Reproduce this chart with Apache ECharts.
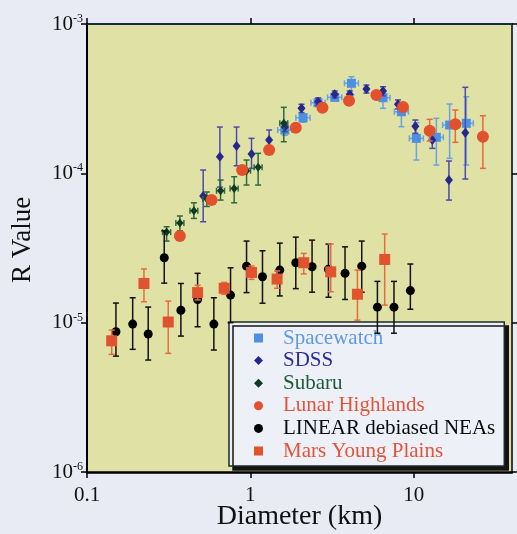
<!DOCTYPE html>
<html>
<head>
<meta charset="utf-8">
<script src="https://cdn.jsdelivr.net/npm/echarts@6/dist/echarts.min.js"></script>
<style>
html,body{margin:0;padding:0;background:#e9ebf4;}
#chart{width:517px;height:534px;}
</style>
</head>
<body>
<div id="chart"></div>
<script>
// ---- Data (diameter km, R value, error lo/hi) ----
const xTicks = [0.1, 1, 10];
const yTicks = [1e-6, 1e-5, 1e-4, 1e-3];

const spacewatchD   = [1.626, 2.103, 2.598, 3.287, 4.159, 6.490, 8.411, 10.39, 13.77, 16.60, 21.01];
const spacewatchR   = [1.95e-4, 2.357e-4, 2.971e-4, 3.228e-4, 4.008e-4, 3.209e-4, 2.585e-4, 1.715e-4, 1.742e-4, 2.107e-4, 2.163e-4];
const spacewatchLo  = [1.80e-4, 2.20e-4, 2.80e-4, 3.05e-4, 3.345e-4, 2.725e-4, 2.052e-4, 1.228e-4, 1.136e-4, 1.260e-4, 1.136e-4];
const spacewatchHi  = [2.10e-4, 2.50e-4, 3.15e-4, 3.40e-4, 4.436e-4, 3.60e-4, 2.90e-4, 2.183e-4, 2.335e-4, 2.911e-4, 3.258e-4];
const spacewatchDLo = [1.47, 1.90, 2.35, 2.97, 3.77, 5.88, 7.62, 9.41, 12.47, 15.04, 19.03];
const spacewatchDHi = [1.80, 2.32, 2.87, 3.63, 4.59, 7.16, 9.29, 11.47, 15.20, 18.33, 23.19];

const sdssD  = [0.5144, 0.6510, 0.8235, 1.017, 1.303, 1.626, 2.057, 2.598, 3.287, 4.061, 5.137, 6.490, 8.017, 10.24, 13.01, 16.44, 20.71];
const sdssR  = [7.05e-5, 1.292e-4, 1.524e-4, 1.347e-4, 1.671e-4, 2.042e-4, 2.725e-4, 3.017e-4, 3.381e-4, 3.381e-4, 3.669e-4, 3.558e-4, 2.898e-4, 2.07e-4, 1.671e-4, 9.02e-5, 1.87e-4];
const sdssLo = [4.74e-5, 8.09e-5, 1.124e-4, 1.08e-4, 1.395e-4, 1.90e-4, 2.55e-4, 2.85e-4, 3.20e-4, 3.20e-4, 3.45e-4, 3.30e-4, 2.70e-4, 1.853e-4, 1.47e-4, 6.62e-5, 9.16e-5];
const sdssHi = [1.052e-4, 2.042e-4, 2.042e-4, 1.715e-4, 1.95e-4, 2.20e-4, 2.90e-4, 3.20e-4, 3.56e-4, 3.56e-4, 3.90e-4, 3.80e-4, 3.10e-4, 2.275e-4, 1.95e-4, 1.209e-4, 3.767e-4];

const subaruD   = [0.3073, 0.3705, 0.4513, 0.5418, 0.6573, 0.7960, 0.9480, 1.116, 1.603];
const subaruR   = [4.04e-5, 4.65e-5, 5.62e-5, 6.73e-5, 7.64e-5, 7.93e-5, 1.041e-4, 1.097e-4, 2.163e-4];
const subaruLo  = [3.52e-5, 4.12e-5, 4.99e-5, 6.0e-5, 6.62e-5, 6.35e-5, 8.35e-5, 8.35e-5, 1.628e-4];
const subaruHi  = [4.39e-5, 5.18e-5, 6.35e-5, 7.5e-5, 9.02e-5, 9.49e-5, 1.228e-4, 1.361e-4, 2.767e-4];
const subaruDLo = [0.290, 0.350, 0.427, 0.512, 0.621, 0.752, 0.896, 1.055, 1.515];
const subaruDHi = [0.325, 0.392, 0.477, 0.573, 0.695, 0.842, 1.003, 1.180, 1.695];

const lunarD  = [0.3705, 0.5789, 0.8909, 1.303, 1.898, 2.764, 4.021, 5.914, 8.603, 12.53, 17.99, 26.54];
const lunarR  = [3.80e-5, 6.62e-5, 1.052e-4, 1.432e-4, 2.02e-4, 2.75e-4, 3.064e-4, 3.345e-4, 2.78e-4, 1.929e-4, 2.129e-4, 1.758e-4];
const lunarLo = [null, null, null, null, null, null, null, null, null, 1.645e-4, 1.613e-4, 1.08e-4];
const lunarHi = [null, null, null, null, null, null, null, null, null, 2.30e-4, 2.654e-4, 2.43e-4];

const linearD  = [0.1504, 0.1904, 0.2370, 0.2971, 0.3757, 0.4754, 0.5980, 0.7565, 0.9480, 1.187, 1.515, 1.898, 2.388, 3.008, 3.800, 4.808, 5.998, 7.577, 9.546];
const linearR  = [8.69e-6, 9.78e-6, 8.39e-6, 2.72e-5, 1.21e-5, 1.43e-5, 9.78e-6, 1.53e-5, 2.39e-5, 2.03e-5, 2.25e-5, 2.52e-5, 2.37e-5, 2.28e-5, 2.14e-5, 2.39e-5, 1.27e-5, 1.27e-5, 1.64e-5];
const linearLo = [5.97e-6, 6.63e-6, 5.62e-6, 1.84e-5, 8.13e-6, 9.39e-6, 6.56e-6, 1.0e-5, 1.59e-5, 1.35e-5, 1.51e-5, 1.69e-5, 1.60e-5, 1.48e-5, 1.43e-5, 1.60e-5, 8.5e-6, 8.5e-6, 1.23e-5];
const linearHi = [1.353e-5, 1.468e-5, 1.272e-5, 4.12e-5, 1.83e-5, 2.14e-5, 1.468e-5, 2.33e-5, 3.52e-5, 3.03e-5, 3.41e-5, 3.74e-5, 3.57e-5, 3.36e-5, 3.22e-5, 3.52e-5, 1.89e-5, 1.89e-5, 2.47e-5];

const marsD  = [0.1416, 0.2232, 0.3143, 0.4754, 0.6915, 1.017, 1.458, 2.124, 3.107, 4.526, 6.648];
const marsR  = [7.56e-6, 1.83e-5, 1.01e-5, 1.59e-5, 1.70e-5, 2.17e-5, 1.96e-5, 2.52e-5, 2.19e-5, 1.55e-5, 2.65e-5];
const marsLo = [6.13e-6, 1.38e-5, 6.23e-6, 1.42e-5, 1.55e-5, 1.95e-5, 1.70e-5, 2.12e-5, 1.61e-5, 1.04e-5, 1.31e-5];
const marsHi = [8.92e-6, 2.29e-5, 1.395e-5, 1.78e-5, 1.86e-5, 2.40e-5, 2.22e-5, 2.91e-5, 3.36e-5, 2.25e-5, 3.92e-5];

const seriesNames = ['Spacewatch', 'SDSS', 'Subaru', 'Lunar Highlands', 'LINEAR debiased NEAs', 'Mars Young Plains'];

// ---- helpers ----
function pts(D, R) { return D.map((d, i) => [d, R[i]]); }
function errs(D, R, lo, hi, dlo, dhi) {
  return D.map((d, i) => [d, R[i],
    lo[i] == null ? NaN : lo[i], hi[i] == null ? NaN : hi[i],
    dlo ? dlo[i] : NaN, dhi ? dhi[i] : NaN]);
}
function errRender(color, cap, lw) {
  return function (params, api) {
    const x = api.value(0), y = api.value(1), lo = api.value(2), hi = api.value(3), xl = api.value(4), xh = api.value(5);
    const p = api.coord([x, y]);
    const ch = [];
    const st = { stroke: color, lineWidth: lw };
    if (!isNaN(lo) && !isNaN(hi)) {
      const a = api.coord([x, lo]), b = api.coord([x, hi]);
      ch.push({ type: 'line', shape: { x1: p[0], y1: a[1], x2: p[0], y2: b[1] }, style: st });
      ch.push({ type: 'line', shape: { x1: p[0] - cap, y1: a[1], x2: p[0] + cap, y2: a[1] }, style: st });
      ch.push({ type: 'line', shape: { x1: p[0] - cap, y1: b[1], x2: p[0] + cap, y2: b[1] }, style: st });
    }
    if (!isNaN(xl) && !isNaN(xh)) {
      const a = api.coord([xl, y]), b = api.coord([xh, y]);
      ch.push({ type: 'line', shape: { x1: a[0], y1: p[1], x2: b[0], y2: p[1] }, style: st });
      ch.push({ type: 'line', shape: { x1: a[0], y1: p[1] - cap, x2: a[0], y2: p[1] + cap }, style: st });
      ch.push({ type: 'line', shape: { x1: b[0], y1: p[1] - cap, x2: b[0], y2: p[1] + cap }, style: st });
    }
    return { type: 'group', children: ch };
  };
}
function errSeries(data, color, cap, lw, z) {
  return { type: 'custom', renderItem: errRender(color, cap, lw), data: data,
    encode: { x: 0, y: 1 }, z: z, silent: true, clip: true };
}

const SERIF = '"Liberation Serif", "Times New Roman", serif';
const C = {
  sw: '#4d8fe0', swErr: '#6aa2e4',
  sdss: '#26268f', sdssErr: '#4a4ab0',
  sub: '#0e3a22', subErr: '#2d6a3c',
  lun: '#e2502c', lunErr: '#e8683e',
  lin: '#000000', linErr: '#111111',
  mars: '#e0532e', marsErr: '#ea6a40'
};

const chart = echarts.init(document.getElementById('chart'), null, { renderer: 'canvas' });

const xAxisBase = {
  type: 'log', logBase: 10, min: 0.1, max: 40,
  splitLine: { show: false }, minorTick: { show: false },
  axisTick: { show: true, inside: false, length: 6, customValues: xTicks, lineStyle: { color: '#000', width: 1.5 } }
};
const yAxisBase = {
  type: 'log', logBase: 10, min: 1e-6, max: 1e-3,
  splitLine: { show: false }, minorTick: { show: false },
  axisTick: { show: true, inside: false, length: 6, customValues: yTicks, lineStyle: { color: '#000', width: 1.5 } }
};

const option = {
  backgroundColor: '#e9ebf4',
  animation: false,
  grid: { left: 87, right: 5, top: 24, bottom: 62, outerBoundsMode: 'none', containLabel: false,
    show: true, backgroundColor: '#dfe2a4', borderWidth: 0 },
  xAxis: [
    Object.assign({}, xAxisBase, {
      position: 'bottom',
      axisLine: { show: true, lineStyle: { color: '#000', width: 2.5 } },
      axisLabel: { show: true, customValues: xTicks, margin: 13, fontFamily: SERIF, fontSize: 21, color: '#111',
        formatter: v => (Math.abs(v - 0.1) < 1e-9 ? '0.1' : String(Math.round(v))) },
      name: 'Diameter (km)', nameLocation: 'middle', nameGap: 31, nameMoveOverlap: false,
      nameTextStyle: { fontFamily: SERIF, fontSize: 28, color: '#111' }
    }),
    Object.assign({}, xAxisBase, {
      position: 'top',
      axisLine: { show: true, lineStyle: { color: '#10303c', width: 2 } },
      axisLabel: { show: false }
    })
  ],
  yAxis: [
    Object.assign({}, yAxisBase, {
      position: 'left',
      axisLine: { show: true, lineStyle: { color: '#000', width: 2 } },
      axisLabel: { show: true, customValues: yTicks, margin: 4, fontFamily: SERIF, color: '#111',
        formatter: v => '{b|10}{s|' + Math.round(Math.log10(v)) + '}',
        rich: {
          b: { fontFamily: SERIF, fontSize: 21, lineHeight: 22, color: '#111' },
          s: { fontFamily: SERIF, fontSize: 12, lineHeight: 12, verticalAlign: 'top', color: '#111' }
        } },
      name: 'R Value', nameLocation: 'middle', nameRotate: 90, nameGap: 51, nameMoveOverlap: false,
      nameTextStyle: { fontFamily: SERIF, fontSize: 27, color: '#111', padding: [0, 0, 0, 16] }
    }),
    Object.assign({}, yAxisBase, {
      position: 'right',
      axisLine: { show: true, lineStyle: { color: '#000', width: 1.5 } },
      axisLabel: { show: false }
    })
  ],
  legend: {
    left: 229, top: 322, orient: 'vertical',
    padding: [5, 9, 4, 25], itemGap: 0.6, itemWidth: 9, itemHeight: 9,
    backgroundColor: '#eef0f8', borderColor: '#1c2a2a', borderWidth: 1.5,
    shadowColor: '#141414', shadowBlur: 0, shadowOffsetX: 4, shadowOffsetY: 4,
    selectedMode: false,
    textStyle: { fontFamily: SERIF, fontSize: 21, lineHeight: 22, padding: [0, 0, 0, 15] },
    data: [
      { name: seriesNames[0], textStyle: { color: '#5f98e2' } },
      { name: seriesNames[1], textStyle: { color: '#2c2c96' } },
      { name: seriesNames[2], textStyle: { color: '#1e5a38' } },
      { name: seriesNames[3], textStyle: { color: '#e0553a' } },
      { name: seriesNames[4], textStyle: { color: '#0a0a0a' } },
      { name: seriesNames[5], textStyle: { color: '#e0553a' } }
    ]
  },
  series: [
    errSeries(errs(spacewatchD, spacewatchR, spacewatchLo, spacewatchHi, spacewatchDLo, spacewatchDHi), C.swErr, 3, 1.5, 2),
    { type: 'scatter', name: seriesNames[0], data: pts(spacewatchD, spacewatchR), symbol: 'rect', symbolSize: 9,
      itemStyle: { color: C.sw, opacity: 1 }, z: 3 },
    errSeries(errs(sdssD, sdssR, sdssLo, sdssHi), C.sdssErr, 3, 1.5, 4),
    { type: 'scatter', name: seriesNames[1], data: pts(sdssD, sdssR), symbol: 'diamond', symbolSize: [8, 10],
      itemStyle: { color: C.sdss, opacity: 1 }, z: 5 },
    errSeries(errs(subaruD, subaruR, subaruLo, subaruHi, subaruDLo, subaruDHi), C.subErr, 3, 1.5, 6),
    { type: 'scatter', name: seriesNames[2], data: pts(subaruD, subaruR), symbol: 'diamond', symbolSize: [7, 9],
      itemStyle: { color: C.sub, opacity: 1 }, z: 7 },
    errSeries(errs(lunarD, lunarR, lunarLo, lunarHi), C.lunErr, 3, 1.5, 8),
    { type: 'scatter', name: seriesNames[3], data: pts(lunarD, lunarR), symbol: 'circle', symbolSize: 12,
      itemStyle: { color: C.lun, opacity: 1 }, z: 9 },
    errSeries(errs(linearD, linearR, linearLo, linearHi), C.linErr, 3, 1.5, 10),
    { type: 'scatter', name: seriesNames[4], data: pts(linearD, linearR), symbol: 'circle', symbolSize: 9,
      itemStyle: { color: C.lin, opacity: 1 }, z: 11 },
    errSeries(errs(marsD, marsR, marsLo, marsHi), C.marsErr, 3, 1.5, 12),
    { type: 'scatter', name: seriesNames[5], data: pts(marsD, marsR), symbol: 'rect', symbolSize: 11,
      itemStyle: { color: C.mars, opacity: 1 }, z: 13 }
  ]
};
chart.setOption(option);
</script>
</body>
</html>
